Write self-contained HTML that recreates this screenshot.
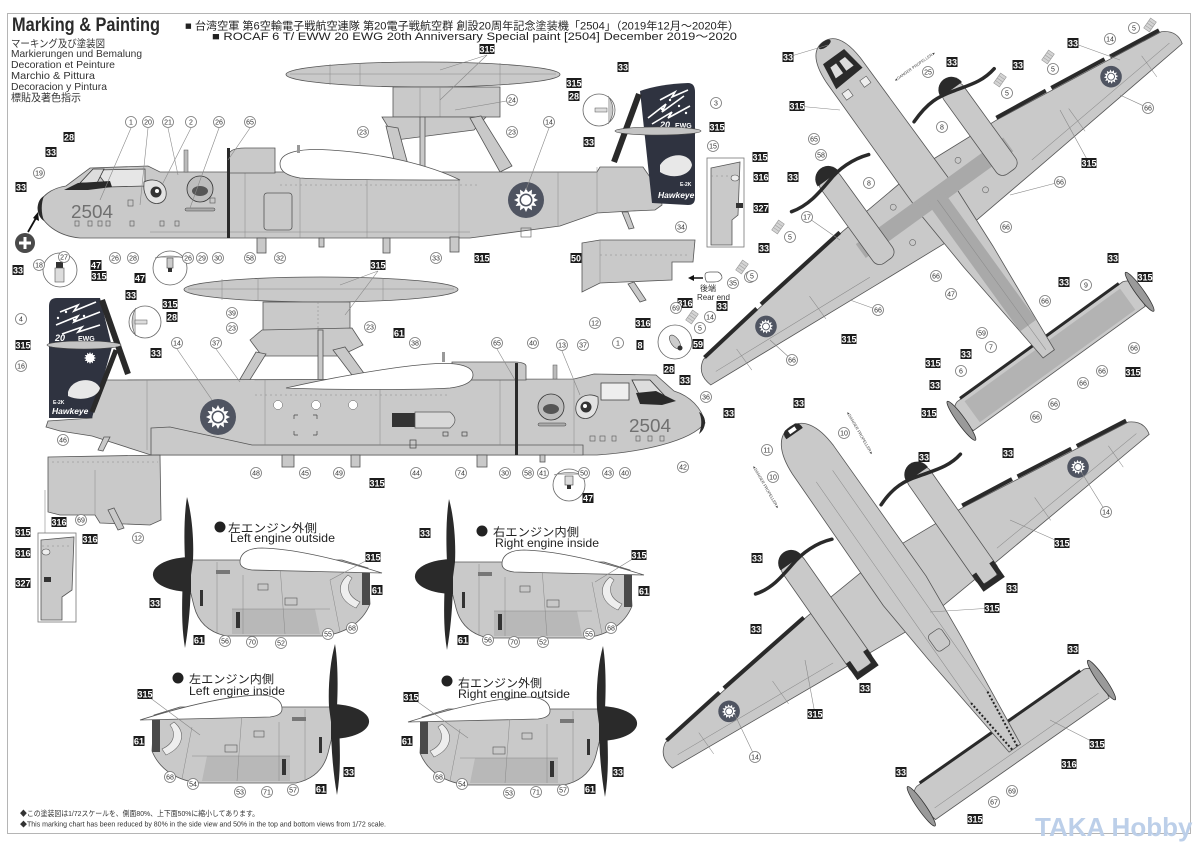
<!DOCTYPE html>
<html><head><meta charset="utf-8">
<style>
html,body{margin:0;padding:0;background:#fff;width:1200px;height:842px;overflow:hidden}
svg{display:block;overflow:hidden}
text{font-family:"Liberation Sans","Noto Sans CJK JP",sans-serif}
.b rect{fill:#1c1c1c}
.b text{fill:#fff;font-size:9px;font-weight:bold;text-anchor:middle}
.c circle{fill:#fff;stroke:#777;stroke-width:.8}
.c text{fill:#333;font-size:7px;text-anchor:middle}
.g{fill:#c9c9c9;stroke:#555;stroke-width:.8}
.l{stroke:#888;stroke-width:.6;fill:none}
.p{stroke:#888;stroke-width:.5;fill:none}
.h{fill:#d4d4d4;stroke:#999;stroke-width:.6}
</style></head><body>
<svg width="1200" height="842" viewBox="0 0 1200 842" xmlns="http://www.w3.org/2000/svg">
<defs>
<polygon id="sun" points="12,0 7.73,2.07 10.39,6 5.66,5.66 6,10.39 2.07,7.73 0,12 -2.07,7.73 -6,10.39 -5.66,5.66 -10.39,6 -7.73,2.07 -12,0 -7.73,-2.07 -10.39,-6 -5.66,-5.66 -6,-10.39 -2.07,-7.73 0,-12 2.07,-7.73 6,-10.39 5.66,-5.66 10.39,-6 7.73,-2.07" fill="#fff"/>
<g id="rd"><circle r="18" fill="#4f5461"/><use href="#sun"/><circle r="6.5" fill="#4f5461"/><circle r="5" fill="#fff"/></g>
<g id="hm"><rect x="-6" y="-3.5" width="12" height="7" class="h"/><line x1="-3" y1="-3.5" x2="-3" y2="3.5" stroke="#999" stroke-width=".5"/><line x1="0" y1="-3.5" x2="0" y2="3.5" stroke="#999" stroke-width=".5"/><line x1="3" y1="-3.5" x2="3" y2="3.5" stroke="#999" stroke-width=".5"/></g>
<g id="eng">
<path class="g" d="M190,560 L342,560 L368,568 L370,604 C362,624 343,634 322,636 L226,636 C208,632 198,622 194,606 L190,590 Z"/>
<path d="M232,609 L315,609 L320,634 L232,634 Z" fill="#b8b8b8"/>
<line class="p" x1="217" y1="562" x2="217" y2="634"/><line class="p" x1="243" y1="575" x2="243" y2="634"/>
<line class="p" x1="280" y1="566" x2="285" y2="634"/><line class="p" x1="232" y1="609" x2="330" y2="609"/>
<line class="p" x1="330" y1="580" x2="340" y2="632"/>
<rect x="258" y="584" width="10" height="6" fill="none" stroke="#555" stroke-width=".6"/>
<rect x="285" y="598" width="12" height="7" fill="none" stroke="#555" stroke-width=".6"/>
<rect x="216" y="570" width="14" height="4" fill="#777"/>
<path d="M348,575 C336,585 338,600 356,608 L360,602 C347,596 346,586 352,578 Z" fill="#eee" stroke="#666" stroke-width=".6"/>
<rect x="362" y="569" width="8" height="36" fill="#4a4a4a"/>
<rect x="200" y="590" width="3" height="16" fill="#333"/>
<rect x="236" y="612" width="4" height="16" fill="#333"/>
<path d="M240,562 C240,552 250,548 262,548 C300,549 350,563 382,573 C340,572 282,571 252,570 C244,569 240,566 240,562 Z" fill="#fff" stroke="#555" stroke-width=".8"/>
<path d="M191,557 A37,17 0 0 0 191,592 Z" fill="#2a2a2a"/>
<path d="M187,497 C192,515 194,540 193,560 L191,575 C191,600 189,625 185,648 C181,625 182,600 183,575 L185,560 C184,540 184,515 187,497 Z" fill="#2a2a2a"/>
</g>
</defs>

<!-- frame -->
<rect x="7.5" y="13.5" width="1183" height="820" fill="none" stroke="#b5b5b5" stroke-width="1"/>

<!-- header -->
<text x="12" y="31" font-size="19" font-weight="bold" fill="#2a2a2a" textLength="148" lengthAdjust="spacingAndGlyphs">Marking &amp; Painting</text>
<g font-size="10.5" fill="#333">
<text x="11" y="47" textLength="94" lengthAdjust="spacingAndGlyphs">マーキング及び塗装図</text>
<text x="11" y="57" textLength="131" lengthAdjust="spacingAndGlyphs">Markierungen und Bemalung</text>
<text x="11" y="68" textLength="104" lengthAdjust="spacingAndGlyphs">Decoration et Peinture</text>
<text x="11" y="79" textLength="84" lengthAdjust="spacingAndGlyphs">Marchio &amp; Pittura</text>
<text x="11" y="90" textLength="96" lengthAdjust="spacingAndGlyphs">Decoracion y Pintura</text>
<text x="11" y="101" textLength="70" lengthAdjust="spacingAndGlyphs">標貼及著色指示</text>
</g>
<text x="185" y="29.5" font-size="11" fill="#222" textLength="554" lengthAdjust="spacingAndGlyphs">■ 台湾空軍 第6空輸電子戦航空連隊 第20電子戦航空群 創設20周年記念塗装機「2504」（2019年12月～2020年）</text>
<text x="212" y="40" font-size="11" fill="#222" textLength="525" lengthAdjust="spacingAndGlyphs">■ ROCAF 6 T/ EWW 20 EWG 20th Anniversary Special paint [2504] December 2019～2020</text>

<!-- ===== UPPER SIDE VIEW ===== -->
<ellipse class="g" cx="423" cy="74.5" rx="137" ry="12.5"/>
<line class="p" x1="290" y1="74" x2="556" y2="74"/><line class="p" x1="330" y1="64" x2="330" y2="85"/><line class="p" x1="360" y1="63" x2="360" y2="86"/><line class="p" x1="500" y1="63" x2="500" y2="86"/>
<rect class="g" x="393" y="87" width="107" height="30"/>
<line class="p" x1="420" y1="87" x2="420" y2="117"/><line class="p" x1="440" y1="87" x2="440" y2="117"/>
<path class="g" d="M382,117 L486,117 L474,130 L396,140 Z"/>
<path class="g" d="M386,126 L398,128 L410,172 L397,172 Z"/>
<path class="g" d="M470,118 L481,116 L512,166 L500,172 Z"/>
<rect class="g" x="420" y="117" width="5" height="55"/>
<path class="g" d="M38,208 C40,196 52,188 66,186 L90,168 L148,166 L160,172 L597,172 L600,167 L643,167 L652,180 L660,186 L662,205 L655,210 L632,211 L597,213 L560,226 L470,238 L80,238 C58,236 42,224 38,208 Z"/>
<line class="p" x1="150" y1="232" x2="470" y2="232"/>
<line class="p" x1="245" y1="172" x2="245" y2="238"/><line class="p" x1="300" y1="172" x2="300" y2="238"/><line class="p" x1="367" y1="180" x2="367" y2="238"/><line class="p" x1="459" y1="180" x2="459" y2="237"/><line class="p" x1="558" y1="172" x2="558" y2="227"/><line class="p" x1="597" y1="167" x2="597" y2="213"/>
<line class="p" x1="280" y1="185" x2="480" y2="185" stroke-dasharray="2 3"/>
<path class="g" d="M228,173 L228,157 C228,150 235,148 245,148 L275,148 L275,173 Z"/>
<path d="M280,164 C280,152 300,148 330,150 C380,153 430,165 460,180 C420,180 330,180 300,178 C288,176 280,172 280,164 Z" fill="#fff" stroke="#555" stroke-width=".8"/>
<rect x="227" y="148" width="3" height="90" fill="#2a2a2a"/>
<rect x="184" y="150" width="4" height="22" fill="#bbb" stroke="#555" stroke-width=".5"/>
<rect x="297" y="145" width="3" height="8" fill="#999"/>
<rect class="g" x="257" y="238" width="9" height="15"/><rect class="g" x="319" y="238" width="5" height="9"/><rect class="g" x="383" y="238" width="7" height="15"/><rect class="g" x="450" y="237" width="9" height="15"/>
<path class="g" d="M622,212 L628,212 L634,228 L629,229 Z"/>
<path d="M95,170 L145,169 L145,186 L108,187 Z" fill="#e6e6e6" stroke="#444" stroke-width=".8"/>
<path d="M80,183 L93,169 L104,169 L97,183 Z" fill="#ddd" stroke="#333" stroke-width=".8"/>
<path d="M64,190 L78,183 L110,181 L112,187 L88,190 Z" fill="#2a2a2a"/>
<path d="M44,196 C36,200 35,215 44,221 C41,213 41,203 44,196 Z" fill="#2a2a2a"/>
<rect class="g" x="264" y="193" width="28" height="37" rx="3"/>
<g fill="none" stroke="#555" stroke-width=".6"><rect x="75" y="221" width="4" height="5"/><rect x="88" y="221" width="4" height="5"/><rect x="98" y="221" width="4" height="5"/><rect x="106" y="221" width="4" height="5"/><rect x="130" y="221" width="4" height="5"/><rect x="160" y="221" width="4" height="5"/><rect x="175" y="221" width="4" height="5"/><rect x="128" y="200" width="5" height="6"/><rect x="210" y="198" width="5" height="5"/></g>
<text x="71" y="218" font-size="18" fill="#707070" textLength="42" lengthAdjust="spacingAndGlyphs">2504</text>
<g transform="translate(156,192)"><path d="M-12,-10 C0,-16 12,-8 10,4 C8,14 -6,14 -10,4 C-13,-2 -12,-6 -12,-10 Z" fill="#e2e2e2" stroke="#444" stroke-width=".8"/><circle r="5.5" fill="#333"/><circle cx="1" cy="-1" r="2" fill="#fff"/></g>
<circle cx="200" cy="189" r="13" fill="#bdbdbd" stroke="#333" stroke-width=".8"/><ellipse cx="200" cy="191" rx="8" ry="5" fill="#555"/>
<rect x="185" y="208" width="30" height="3" rx="1.5" fill="#aaa" stroke="#444" stroke-width=".5"/>
<use href="#rd" x="526" y="200"/>
<rect x="521" y="228" width="10" height="9" fill="none" stroke="#555" stroke-width=".6"/>
<path d="M640,91 Q660,84 688,83 Q695,83 695,92 L695,198 Q695,205 688,205 L652,203 Z" fill="#2f3340"/>
<line x1="639" y1="94" x2="614" y2="162" stroke="#2a2a2a" stroke-width="6"/>
<g stroke="#fff" stroke-width="1.6" fill="none"><polyline points="648,118 666,104 662,112 684,96"/><polyline points="652,124 672,112 668,118 690,106"/><polyline points="660,100 675,92 672,97 688,90"/></g>
<g fill="#fff"><circle cx="670" cy="100" r="1.2"/><circle cx="679" cy="106" r="1.2"/><circle cx="686" cy="113" r="1.2"/><circle cx="662" cy="109" r="1.2"/></g>
<text x="660" y="128" font-size="9" font-style="italic" font-weight="bold" fill="#fff">20</text>
<text x="675" y="128" font-size="7" font-weight="bold" fill="#fff">EWG</text>
<ellipse cx="658" cy="131" rx="43" ry="4" fill="#c4c4c4" stroke="#444" stroke-width=".6"/>
<path d="M660,165 C668,152 690,152 692,165 C690,176 672,180 660,172 Z" fill="#e8e8e8"/>
<text x="680" y="186" font-size="5" font-weight="bold" fill="#fff">E-2K</text>
<text x="658" y="198" font-size="8.5" font-style="italic" font-weight="bold" fill="#fff">Hawkeye</text>
<rect x="707" y="158" width="37" height="89" fill="#fff" stroke="#777" stroke-width=".8"/>
<path class="g" d="M711,168 L740,162 L738,215 L732,220 L732,245 L711,245 Z"/>
<line class="p" x1="711" y1="176" x2="738" y2="176" stroke-dasharray="2 3"/>
<ellipse cx="735" cy="178" rx="4" ry="3" fill="#eee" stroke="#555" stroke-width=".6"/>
<rect x="736" y="203" width="7" height="5" fill="#333"/>
<path class="g" d="M582,243 L600,240 L695,240 L693,262 L672,262 L672,280 L600,283 L582,292 Z"/>
<line class="p" x1="600" y1="240" x2="600" y2="283"/><line class="p" x1="600" y1="255" x2="690" y2="255" stroke-dasharray="2 3"/>
<path class="g" d="M628,284 L634,282 L646,300 L640,302 Z"/>
<path d="M705,275 Q705,272 710,272 L718,272 Q722,274 722,278 Q720,282 714,282 L707,282 Q705,280 705,275 Z" fill="#fff" stroke="#555" stroke-width=".7"/>
<line x1="703" y1="278" x2="692" y2="278" stroke="#111" stroke-width="1.5"/><path d="M688,278 L694,275 L694,281 Z" fill="#111"/>
<text x="700" y="291" font-size="8" fill="#333">後端</text>
<text x="697" y="300" font-size="8" fill="#333">Rear end</text>
<circle cx="60" cy="270" r="17" fill="#fff" stroke="#666" stroke-width=".8"/><rect x="56" y="262" width="7" height="6" fill="#333"/><rect x="55" y="268" width="9" height="14" fill="#ddd" stroke="#555" stroke-width=".6"/>
<circle cx="170" cy="268" r="17" fill="#fff" stroke="#666" stroke-width=".8"/><path d="M155,258 Q170,254 185,258" fill="#c9c9c9" stroke="#555" stroke-width=".6"/><rect x="167" y="258" width="6" height="10" fill="#ccc" stroke="#444" stroke-width=".6"/><rect x="168" y="268" width="4" height="4" fill="#333"/>
<circle cx="599" cy="110" r="16" fill="#fff" stroke="#666" stroke-width=".8"/><path d="M608,96 Q618,110 608,124" fill="#c9c9c9" stroke="#555" stroke-width=".6"/><rect x="595" y="108" width="12" height="4" fill="#ddd" stroke="#555" stroke-width=".5"/>
<circle cx="25" cy="243" r="10" fill="#4a4a4a"/><rect x="19" y="241.5" width="12" height="3" fill="#fff"/><rect x="23.5" y="237" width="3" height="12" fill="#fff"/>
<line x1="28" y1="232" x2="36" y2="218" stroke="#111" stroke-width="1.8"/><path d="M38,212 L39,221 L33,218 Z" fill="#111"/>

<!-- ===== LOWER SIDE VIEW ===== -->
<ellipse class="g" cx="321" cy="289.5" rx="137" ry="12.5"/>
<line class="p" x1="188" y1="289" x2="454" y2="289"/><line class="p" x1="222" y1="279" x2="222" y2="300"/><line class="p" x1="258" y1="278" x2="258" y2="301"/><line class="p" x1="383" y1="278" x2="383" y2="301"/>
<rect class="g" x="263" y="302" width="87" height="30"/>
<line class="p" x1="318" y1="302" x2="318" y2="332" stroke-dasharray="2 2"/>
<path class="g" d="M250,340 L262,330 L352,328 L363,345 L340,356 L262,356 Z"/>
<path class="g" d="M256,352 L266,354 L246,386 L236,386 Z"/>
<path class="g" d="M333,350 L345,347 L366,376 L355,379 Z"/>
<rect class="g" x="318" y="330" width="5" height="52"/>
<path class="g" d="M705,423 C702,408 690,396 674,391 L656,375 L594,374 L574,379 L92,380 L92,418 L48,421 L46,427 L60,431 L92,436 L151,455 L597,455 C640,452 690,442 705,423 Z"/>
<path class="g" d="M151,428 L170,427 L252,445 L583,445 L583,455 L151,455 Z"/>
<line class="p" x1="147" y1="380" x2="147" y2="450"/><line class="p" x1="265" y1="380" x2="265" y2="445"/><line class="p" x1="380" y1="388" x2="380" y2="445"/><line class="p" x1="500" y1="380" x2="500" y2="445"/><line class="p" x1="574" y1="380" x2="574" y2="453"/>
<line class="p" x1="255" y1="395" x2="450" y2="395" stroke-dasharray="2 3"/>
<path class="g" d="M526,380 L526,366 C526,364 522,362 515,362 L452,362 L452,380 Z"/>
<path d="M473,375 C473,365 455,362 430,364 C390,367 330,378 286,388 C330,390 420,390 450,388 C465,386 473,382 473,375 Z" fill="#fff" stroke="#555" stroke-width=".8"/>
<rect x="515" y="363" width="3" height="92" fill="#2a2a2a"/>
<rect x="392" y="413" width="23" height="14" fill="#333"/>
<path d="M415,412 L450,412 Q460,420 450,428 L415,428 Z" fill="#d8d8d8" stroke="#555" stroke-width=".7"/>
<circle cx="278" cy="405" r="4.5" fill="#fff" stroke="#666" stroke-width=".5"/><circle cx="316" cy="405" r="4.5" fill="#fff" stroke="#666" stroke-width=".5"/><circle cx="353" cy="405" r="4.5" fill="#fff" stroke="#666" stroke-width=".5"/>
<g fill="none" stroke="#444" stroke-width=".7"><path d="M294,415 L294,419 M294,415 L298,415 M317,415 L313,415 M317,415 L317,419 M294,435 L294,431 M294,435 L298,435 M317,435 L313,435 M317,435 L317,431"/><rect x="410" y="440" width="6" height="8"/><rect x="443" y="432" width="5" height="4"/><rect x="462" y="432" width="5" height="4"/></g>
<rect x="442" y="352" width="3" height="10" fill="#999"/><rect x="553" y="365" width="4" height="14" fill="#bbb" stroke="#555" stroke-width=".5"/>
<rect class="g" x="282" y="455" width="12" height="12"/><rect class="g" x="351" y="455" width="9" height="12"/><rect class="g" x="477" y="455" width="10" height="12"/><rect class="g" x="540" y="455" width="5" height="7"/>
<path class="g" d="M104,437 L110,437 L103,451 L98,450 Z"/>
<use href="#rd" x="218" y="417"/>
<rect x="601" y="383" width="28" height="17" fill="#eee" stroke="#444" stroke-width=".8"/>
<path d="M632,380 L650,380 L664,395 L640,396 Z" fill="#ddd" stroke="#333" stroke-width=".8"/>
<path d="M636,393 L656,391 L676,401 L662,405 L640,404 Z" fill="#2a2a2a"/>
<path d="M699,412 C707,416 707,428 699,434 C702,426 702,418 699,412 Z" fill="#2a2a2a"/>
<g fill="none" stroke="#555" stroke-width=".6"><rect x="590" y="436" width="5" height="5"/><rect x="600" y="436" width="5" height="5"/><rect x="612" y="436" width="4" height="5"/><rect x="636" y="436" width="4" height="5"/><rect x="648" y="436" width="4" height="5"/><rect x="660" y="436" width="4" height="5"/></g>
<text x="629" y="432" font-size="18" fill="#707070" textLength="42" lengthAdjust="spacingAndGlyphs">2504</text>
<g transform="translate(586,407) scale(-1,1)"><path d="M-12,-10 C0,-16 12,-8 10,4 C8,14 -6,14 -10,4 C-13,-2 -12,-6 -12,-10 Z" fill="#e2e2e2" stroke="#444" stroke-width=".8"/><circle r="5.5" fill="#333"/><circle cx="1" cy="-1" r="2" fill="#fff"/></g>
<circle cx="551" cy="407" r="13" fill="#bdbdbd" stroke="#333" stroke-width=".8"/><ellipse cx="551" cy="409" rx="8" ry="5" fill="#555"/>
<rect x="538" y="423" width="28" height="3" rx="1.5" fill="#aaa" stroke="#444" stroke-width=".5"/>
<path d="M49,306 Q49,298 57,298 L100,298 L112,347 L92,418 L49,418 Z" fill="#2f3340"/>
<line x1="102" y1="300" x2="128" y2="374" stroke="#2a2a2a" stroke-width="6"/>
<line x1="116" y1="350" x2="92" y2="412" stroke="#2a2a2a" stroke-width="5"/>
<g stroke="#fff" stroke-width="1.6" fill="none"><polyline points="60,312 78,305 74,311 96,302"/><polyline points="56,325 78,316 74,322 100,312"/><polyline points="62,334 82,327 78,332 100,325"/></g>
<g fill="#fff"><circle cx="58" cy="318" r="1.2"/><circle cx="66" cy="312" r="1.2"/><circle cx="74" cy="320" r="1.2"/><circle cx="84" cy="316" r="1.2"/></g>
<text x="55" y="341" font-size="9" font-style="italic" font-weight="bold" fill="#fff">20</text>
<text x="78" y="341" font-size="7" font-weight="bold" fill="#fff">EWG</text>
<ellipse cx="84" cy="345" rx="37" ry="4" fill="#c4c4c4" stroke="#444" stroke-width=".6"/>
<use href="#sun" transform="translate(90,358) scale(.5)"/>
<path d="M68,392 C72,378 94,376 100,388 C98,398 80,402 68,396 Z" fill="#e8e8e8"/>
<text x="53" y="404" font-size="5" font-weight="bold" fill="#fff">E-2K</text>
<text x="52" y="414" font-size="8.5" font-style="italic" font-weight="bold" fill="#fff">Hawkeye</text>
<circle cx="145" cy="322" r="16" fill="#fff" stroke="#666" stroke-width=".8"/><path d="M136,308 Q128,322 136,336" fill="#c9c9c9" stroke="#555" stroke-width=".6"/><rect x="135" y="320" width="12" height="4" fill="#ddd" stroke="#555" stroke-width=".5"/>
<circle cx="569" cy="485" r="16" fill="#fff" stroke="#666" stroke-width=".8"/><path d="M554,475 Q569,470 584,475" fill="#c9c9c9" stroke="#555" stroke-width=".6"/><rect x="565" y="476" width="8" height="9" fill="#ddd" stroke="#444" stroke-width=".6"/><rect x="567" y="485" width="4" height="4" fill="#333"/>
<circle cx="675" cy="342" r="17" fill="#fff" stroke="#666" stroke-width=".8"/><ellipse cx="675" cy="342" rx="4" ry="8" transform="rotate(-35 675 342)" fill="#ccc" stroke="#444" stroke-width=".6"/><circle cx="680" cy="348" r="2.5" fill="#333"/>

<!-- tail detail left -->
<path class="g" d="M48,457 L160,455 L161,520 L150,525 L100,523 L95,515 L60,515 L48,512 Z"/>
<line class="p" x1="52" y1="462" x2="158" y2="462" stroke-dasharray="2 3"/><line class="p" x1="95" y1="470" x2="95" y2="515"/>
<path class="g" d="M108,510 L114,508 L124,528 L118,530 Z"/>
<line class="l" x1="45" y1="490" x2="45" y2="535"/>
<rect x="38" y="533" width="38" height="89" fill="#fff" stroke="#777" stroke-width=".8"/>
<path class="g" d="M41,540 L74,537 L72,590 L62,597 L62,620 L41,620 Z"/>
<line class="p" x1="42" y1="546" x2="72" y2="546" stroke-dasharray="2 3"/>
<ellipse cx="46" cy="552" rx="4" ry="3" fill="#eee" stroke="#555" stroke-width=".6"/>
<rect x="44" y="577" width="7" height="5" fill="#333"/>

<!-- engines -->
<use href="#eng"/>
<use href="#eng" transform="translate(262,2)"/>
<use href="#eng" transform="translate(522,147) scale(-1,1)"/>
<use href="#eng" transform="translate(790,149) scale(-1,1)"/>
<circle cx="220" cy="527" r="5.5" fill="#222"/><text x="228" y="532" font-size="11.5" fill="#222" textLength="89" lengthAdjust="spacingAndGlyphs">左エンジン外側</text><text x="230" y="542" font-size="12" fill="#222" textLength="105" lengthAdjust="spacingAndGlyphs">Left engine outside</text>
<circle cx="482" cy="531" r="5.5" fill="#222"/><text x="493" y="536" font-size="11.5" fill="#222" textLength="86" lengthAdjust="spacingAndGlyphs">右エンジン内側</text><text x="495" y="547" font-size="12" fill="#222" textLength="104" lengthAdjust="spacingAndGlyphs">Right engine inside</text>
<circle cx="178" cy="678" r="5.5" fill="#222"/><text x="189" y="683" font-size="11.5" fill="#222" textLength="85" lengthAdjust="spacingAndGlyphs">左エンジン内側</text><text x="189" y="695" font-size="12" fill="#222" textLength="96" lengthAdjust="spacingAndGlyphs">Left engine inside</text>
<circle cx="447" cy="681" r="5.5" fill="#222"/><text x="458" y="687" font-size="11.5" fill="#222" textLength="84" lengthAdjust="spacingAndGlyphs">右エンジン外側</text><text x="458" y="698" font-size="12" fill="#222" textLength="112" lengthAdjust="spacingAndGlyphs">Right engine outside</text>

<!-- footer -->
<text x="20" y="816" font-size="7.5" fill="#333" textLength="239" lengthAdjust="spacingAndGlyphs">◆この塗装図は1/72スケールを、側面80%、上下面50%に縮小してあります。</text>
<text x="20" y="826.5" font-size="7" fill="#333" textLength="366" lengthAdjust="spacingAndGlyphs">◆This marking chart has been reduced by 80% in the side view and 50% in the top and bottom views from 1/72 scale.</text>

<!-- ===== TOP VIEW (split into groups) ===== -->
<g transform="translate(823,42) rotate(54.1)">
<path class="g" d="M370,-102 Q372,-111 386,-111 L403,-106 L403,106 L386,111 Q372,111 370,102 Z"/>
<rect x="374" y="-96" width="26" height="192" fill="#b3b3b3"/>
<line x1="369" y1="-98" x2="369" y2="98" stroke="#2a2a2a" stroke-width="3"/>
<ellipse cx="388" cy="-110" rx="24" ry="4" fill="#9a9a9a" stroke="#333" stroke-width=".8"/>
<ellipse cx="388" cy="110" rx="24" ry="4" fill="#9a9a9a" stroke="#333" stroke-width=".8"/>
</g>
<g transform="translate(823,42) rotate(54.1)">
<path class="g" d="M190,-280 L165,-95 L158,0 L165,95 L187,283 Q195,297 212,292 L228,100 L236,0 L228,-100 L212,-290 Q198,-294 190,-280 Z"/>
<line class="p" x1="204" y1="-280" x2="218" y2="-100"/><line class="p" x1="204" y1="280" x2="218" y2="100"/>
<line class="p" x1="198" y1="-250" x2="224" y2="-250"/><line class="p" x1="198" y1="-160" x2="226" y2="-160"/><line class="p" x1="198" y1="250" x2="224" y2="250"/><line class="p" x1="198" y1="160" x2="226" y2="160"/>
<g stroke="#2a2a2a" stroke-width="4"><line x1="187.5" y1="-279" x2="180" y2="-224"/><line x1="179" y1="-218" x2="171" y2="-158"/><line x1="170" y1="-152" x2="163" y2="-96"/><line x1="186" y1="281" x2="177" y2="210"/><line x1="176" y1="204" x2="164" y2="98"/></g>
<use href="#rd" transform="translate(197,-213) scale(.6)"/>
<use href="#rd" transform="translate(197,213) scale(.6)"/>
<g fill="none" stroke="#666" stroke-width=".6"><circle cx="215" cy="-45" r="3"/><circle cx="215" cy="45" r="3"/><circle cx="205" cy="-70" r="3"/><circle cx="205" cy="70" r="3"/></g>
</g>
<g transform="translate(823,42) rotate(54.1)">
<path class="g" d="M0,0 C0,-13 12,-20 35,-21 L200,-22 L265,-18 L340,-11 L385,-7 L385,7 L340,11 L265,18 L200,22 L35,21 C12,20 0,13 0,0 Z"/>
<rect x="183" y="-90" width="17" height="182" fill="#a9a9a9"/>
<rect x="192" y="-10" width="158" height="20" fill="#a9a9a9"/>
<line class="p" x1="195" y1="0" x2="380" y2="0"/>
<path d="M18,-13 L44,-17 L46,17 L18,13 Z" fill="#2a2a2a"/>
<path d="M25,-9 L37,-11 L37,-2 L25,-2 Z" fill="#ddd"/><path d="M25,2 L37,2 L37,11 L25,9 Z" fill="#ddd"/>
<rect x="53" y="-15" width="8" height="8" fill="#eee" stroke="#555" stroke-width=".6"/><rect x="53" y="7" width="8" height="8" fill="#eee" stroke="#555" stroke-width=".6"/>
<ellipse cx="3" cy="0" rx="3" ry="7" fill="#2a2a2a"/>
<rect class="g" x="110" y="-88" width="105" height="24" rx="8"/>
<rect class="g" x="110" y="64" width="105" height="24" rx="8"/>
<path d="M114,-89 A13,13 0 0 0 114,-63 Z" fill="#2a2a2a"/>
<path d="M114,63 A13,13 0 0 0 114,89 Z" fill="#2a2a2a"/>
<path d="M118,-27 C110,-50 112,-62 116,-76 C120,-92 126,-105 122,-123" stroke="#2a2a2a" stroke-width="3.5" fill="none" stroke-linecap="round"/>
<path d="M118,29 C112,45 112,62 116,76 C120,92 124,108 119,125" stroke="#2a2a2a" stroke-width="3.5" fill="none" stroke-linecap="round"/>
<g fill="none" stroke="#666" stroke-width=".6"><circle cx="175" cy="-40" r="3"/><circle cx="175" cy="40" r="3"/></g>
</g>
<text transform="translate(895,82) rotate(-35)" font-size="4" fill="#444">◄DANGER PROPELLER►</text>

<!-- ===== BOTTOM VIEW (split into groups) ===== -->
<g transform="translate(790,427) rotate(55)">
<path class="g" d="M367,-102 Q369,-111 383,-111 L405,-106 L405,106 L383,111 Q369,111 367,102 Z"/>
<line x1="366" y1="-98" x2="366" y2="98" stroke="#2a2a2a" stroke-width="3"/>
<line class="p" x1="395" y1="-100" x2="395" y2="100"/>
<ellipse cx="386" cy="-110" rx="24" ry="4" fill="#9a9a9a" stroke="#333" stroke-width=".8"/>
<ellipse cx="386" cy="110" rx="24" ry="4" fill="#9a9a9a" stroke="#333" stroke-width=".8"/>
</g>
<g transform="translate(790,427) rotate(55)">
<path class="g" d="M190,-280 L165,-95 L158,0 L165,95 L187,283 Q195,297 212,292 L228,100 L236,0 L228,-100 L212,-290 Q198,-294 190,-280 Z"/>
<line class="p" x1="204" y1="-280" x2="218" y2="-100"/><line class="p" x1="204" y1="280" x2="218" y2="100"/>
<line class="p" x1="198" y1="-250" x2="224" y2="-250"/><line class="p" x1="198" y1="-160" x2="226" y2="-160"/><line class="p" x1="198" y1="250" x2="224" y2="250"/><line class="p" x1="198" y1="160" x2="226" y2="160"/>
<g stroke="#2a2a2a" stroke-width="4"><line x1="187.5" y1="-279" x2="180" y2="-224"/><line x1="179" y1="-218" x2="171" y2="-158"/><line x1="170" y1="-152" x2="163" y2="-96"/><line x1="186" y1="281" x2="177" y2="210"/><line x1="176" y1="204" x2="164" y2="98"/></g>
<use href="#rd" transform="translate(198,-213) scale(.6)"/>
<use href="#rd" transform="translate(198,213) scale(.6)"/>
</g>
<g transform="translate(790,427) rotate(55)">
<path class="g" d="M0,0 C0,-15 14,-24 40,-25 L200,-26 L270,-20 L345,-12 L392,-7 L392,7 L345,12 L270,20 L200,26 L40,25 C14,24 0,15 0,0 Z"/>
<line class="p" x1="60" y1="-10" x2="330" y2="-10"/><line class="p" x1="60" y1="10" x2="330" y2="10"/>
<rect x="250" y="-8" width="20" height="16" rx="4" fill="none" stroke="#555" stroke-width=".7"/>
<path d="M330,-10 L392,-3 M330,10 L392,3" stroke="#222" stroke-width="2" stroke-dasharray="2 2" fill="none"/>
<path d="M0,-6 C1,-9 4,-10 6,-10 L8,-10 L8,10 L6,10 C4,10 1,9 0,6 Z" fill="#2a2a2a"/>
<rect x="2" y="-4" width="4" height="8" fill="#fff"/>
<rect class="g" x="108" y="-90" width="132" height="26" rx="8"/>
<rect class="g" x="108" y="64" width="132" height="26" rx="8"/>
<path d="M226,-90 L246,-90 L246,-64 L226,-64 L226,-69 L240,-69 L240,-85 L226,-85 Z" fill="#2a2a2a"/>
<path d="M226,64 L246,64 L246,90 L226,90 L226,85 L240,85 L240,69 L226,69 Z" fill="#2a2a2a"/>
<path d="M112,-90 A13,13 0 0 0 112,-64 Z" fill="#2a2a2a"/>
<path d="M112,64 A13,13 0 0 0 112,90 Z" fill="#2a2a2a"/>
<path d="M116,-30 C108,-50 110,-64 114,-77 C118,-93 124,-107 120,-124" stroke="#2a2a2a" stroke-width="3.5" fill="none" stroke-linecap="round"/>
<path d="M116,30 C110,45 110,62 114,77 C118,93 122,108 117,124" stroke="#2a2a2a" stroke-width="3.5" fill="none" stroke-linecap="round"/>
</g>
<text transform="translate(846,412) rotate(60)" font-size="4" fill="#444">◄DANGER PROPELLER►</text>
<text transform="translate(752,466) rotate(60)" font-size="4" fill="#444">◄DANGER PROPELLER►</text>

<!-- stripe markers -->
<use href="#hm" transform="translate(778,227) rotate(-55)"/>
<use href="#hm" transform="translate(742,267) rotate(-55)"/>
<use href="#hm" transform="translate(1000,80) rotate(-55)"/>
<use href="#hm" transform="translate(1048,57) rotate(-55)"/>
<use href="#hm" transform="translate(1150,25) rotate(-55)"/>
<use href="#hm" transform="translate(692,317) rotate(-55)"/>

<!-- leader lines -->
<g class="l">
<line x1="131" y1="128" x2="100" y2="200"/><line x1="148" y1="128" x2="140" y2="205"/><line x1="168" y1="128" x2="178" y2="175"/><line x1="191" y1="128" x2="162" y2="185"/><line x1="219" y1="128" x2="190" y2="208"/><line x1="250" y1="128" x2="228" y2="160"/>
<line x1="487" y1="55" x2="440" y2="70"/><line x1="487" y1="55" x2="440" y2="100"/><line x1="512" y1="100" x2="455" y2="110"/><line x1="549" y1="128" x2="526" y2="190"/>
<line x1="378" y1="271" x2="340" y2="285"/><line x1="378" y1="271" x2="345" y2="315"/><line x1="177" y1="349" x2="212" y2="400"/><line x1="216" y1="349" x2="240" y2="382"/><line x1="497" y1="349" x2="515" y2="380"/><line x1="562" y1="351" x2="580" y2="395"/>
<line x1="788" y1="57" x2="828" y2="45"/><line x1="797" y1="106" x2="840" y2="110"/><line x1="1089" y1="163" x2="1060" y2="110"/><line x1="1073" y1="43" x2="1120" y2="60"/><line x1="1062" y1="543" x2="1010" y2="520"/><line x1="992" y1="608" x2="930" y2="612"/><line x1="815" y1="714" x2="805" y2="660"/><line x1="1097" y1="744" x2="1050" y2="720"/>
<line x1="1148" y1="108" x2="1120" y2="95"/><line x1="1060" y1="182" x2="1010" y2="195"/><line x1="878" y1="310" x2="850" y2="300"/><line x1="792" y1="360" x2="770" y2="340"/><line x1="807" y1="217" x2="840" y2="240"/><line x1="1106" y1="512" x2="1080" y2="470"/><line x1="755" y1="757" x2="735" y2="715"/>
<line x1="373" y1="557" x2="330" y2="580"/><line x1="639" y1="555" x2="595" y2="582"/><line x1="145" y1="694" x2="200" y2="735"/><line x1="411" y1="697" x2="468" y2="738"/>
</g>

<!-- black labels -->
<g class="b">
<rect x="63.5" y="132" width="11" height="10"/><text x="69" y="140.3">28</text>
<rect x="45.5" y="147" width="11" height="10"/><text x="51" y="155.3">33</text>
<rect x="15.5" y="182" width="11" height="10"/><text x="21" y="190.3">33</text>
<rect x="479.5" y="44" width="15" height="10"/><text x="487" y="52.3">315</text>
<rect x="566.5" y="78" width="15" height="10"/><text x="574" y="86.3">315</text>
<rect x="568.5" y="91" width="11" height="10"/><text x="574" y="99.3">28</text>
<rect x="617.5" y="62" width="11" height="10"/><text x="623" y="70.3">33</text>
<rect x="583.5" y="137" width="11" height="10"/><text x="589" y="145.3">33</text>
<rect x="90.5" y="260" width="11" height="10"/><text x="96" y="268.3">47</text>
<rect x="91.5" y="271" width="15" height="10"/><text x="99" y="279.3">315</text>
<rect x="12.5" y="265" width="11" height="10"/><text x="18" y="273.3">33</text>
<rect x="474.5" y="253" width="15" height="10"/><text x="482" y="261.3">315</text>
<rect x="570.5" y="253" width="11" height="10"/><text x="576" y="261.3">50</text>
<rect x="134.5" y="273" width="11" height="10"/><text x="140" y="281.3">47</text>
<rect x="370.5" y="260" width="15" height="10"/><text x="378" y="268.3">315</text>
<rect x="709.5" y="122" width="15" height="10"/><text x="717" y="130.3">315</text>
<rect x="752.5" y="152" width="15" height="10"/><text x="760" y="160.3">315</text>
<rect x="753.5" y="172" width="15" height="10"/><text x="761" y="180.3">316</text>
<rect x="753.5" y="203" width="15" height="10"/><text x="761" y="211.3">327</text>
<rect x="758.5" y="243" width="11" height="10"/><text x="764" y="251.3">33</text>
<rect x="677.5" y="298" width="15" height="10"/><text x="685" y="306.3">316</text>
<rect x="635.5" y="318" width="15" height="10"/><text x="643" y="326.3">316</text>
<rect x="636.5" y="340" width="7" height="10"/><text x="640" y="348.3">8</text>
<rect x="692.5" y="339" width="11" height="10"/><text x="698" y="347.3">59</text>
<rect x="716.5" y="301" width="11" height="10"/><text x="722" y="309.3">33</text>
<rect x="663.5" y="364" width="11" height="10"/><text x="669" y="372.3">28</text>
<rect x="679.5" y="375" width="11" height="10"/><text x="685" y="383.3">33</text>
<rect x="125.5" y="290" width="11" height="10"/><text x="131" y="298.3">33</text>
<rect x="162.5" y="299" width="15" height="10"/><text x="170" y="307.3">315</text>
<rect x="166.5" y="312" width="11" height="10"/><text x="172" y="320.3">28</text>
<rect x="15.5" y="340" width="15" height="10"/><text x="23" y="348.3">315</text>
<rect x="150.5" y="348" width="11" height="10"/><text x="156" y="356.3">33</text>
<rect x="393.5" y="328" width="11" height="10"/><text x="399" y="336.3">61</text>
<rect x="369.5" y="478" width="15" height="10"/><text x="377" y="486.3">315</text>
<rect x="582.5" y="493" width="11" height="10"/><text x="588" y="501.3">47</text>
<rect x="15.5" y="527" width="15" height="10"/><text x="23" y="535.3">315</text>
<rect x="15.5" y="548" width="15" height="10"/><text x="23" y="556.3">316</text>
<rect x="15.5" y="578" width="15" height="10"/><text x="23" y="586.3">327</text>
<rect x="51.5" y="517" width="15" height="10"/><text x="59" y="525.3">316</text>
<rect x="82.5" y="534" width="15" height="10"/><text x="90" y="542.3">316</text>
<rect x="365.5" y="552" width="15" height="10"/><text x="373" y="560.3">315</text>
<rect x="371.5" y="585" width="11" height="10"/><text x="377" y="593.3">61</text>
<rect x="149.5" y="598" width="11" height="10"/><text x="155" y="606.3">33</text>
<rect x="193.5" y="635" width="11" height="10"/><text x="199" y="643.3">61</text>
<rect x="419.5" y="528" width="11" height="10"/><text x="425" y="536.3">33</text>
<rect x="631.5" y="550" width="15" height="10"/><text x="639" y="558.3">315</text>
<rect x="638.5" y="586" width="11" height="10"/><text x="644" y="594.3">61</text>
<rect x="457.5" y="635" width="11" height="10"/><text x="463" y="643.3">61</text>
<rect x="137.5" y="689" width="15" height="10"/><text x="145" y="697.3">315</text>
<rect x="133.5" y="736" width="11" height="10"/><text x="139" y="744.3">61</text>
<rect x="315.5" y="784" width="11" height="10"/><text x="321" y="792.3">61</text>
<rect x="343.5" y="767" width="11" height="10"/><text x="349" y="775.3">33</text>
<rect x="403.5" y="692" width="15" height="10"/><text x="411" y="700.3">315</text>
<rect x="401.5" y="736" width="11" height="10"/><text x="407" y="744.3">61</text>
<rect x="584.5" y="784" width="11" height="10"/><text x="590" y="792.3">61</text>
<rect x="612.5" y="767" width="11" height="10"/><text x="618" y="775.3">33</text>
<rect x="782.5" y="52" width="11" height="10"/><text x="788" y="60.3">33</text>
<rect x="789.5" y="101" width="15" height="10"/><text x="797" y="109.3">315</text>
<rect x="946.5" y="57" width="11" height="10"/><text x="952" y="65.3">33</text>
<rect x="1012.5" y="60" width="11" height="10"/><text x="1018" y="68.3">33</text>
<rect x="1067.5" y="38" width="11" height="10"/><text x="1073" y="46.3">33</text>
<rect x="1081.5" y="158" width="15" height="10"/><text x="1089" y="166.3">315</text>
<rect x="787.5" y="172" width="11" height="10"/><text x="793" y="180.3">33</text>
<rect x="841.5" y="334" width="15" height="10"/><text x="849" y="342.3">315</text>
<rect x="1107.5" y="253" width="11" height="10"/><text x="1113" y="261.3">33</text>
<rect x="1137.5" y="272" width="15" height="10"/><text x="1145" y="280.3">315</text>
<rect x="1058.5" y="277" width="11" height="10"/><text x="1064" y="285.3">33</text>
<rect x="925.5" y="358" width="15" height="10"/><text x="933" y="366.3">315</text>
<rect x="960.5" y="349" width="11" height="10"/><text x="966" y="357.3">33</text>
<rect x="929.5" y="380" width="11" height="10"/><text x="935" y="388.3">33</text>
<rect x="921.5" y="408" width="15" height="10"/><text x="929" y="416.3">315</text>
<rect x="1125.5" y="367" width="15" height="10"/><text x="1133" y="375.3">315</text>
<rect x="793.5" y="398" width="11" height="10"/><text x="799" y="406.3">33</text>
<rect x="723.5" y="408" width="11" height="10"/><text x="729" y="416.3">33</text>
<rect x="918.5" y="452" width="11" height="10"/><text x="924" y="460.3">33</text>
<rect x="1002.5" y="448" width="11" height="10"/><text x="1008" y="456.3">33</text>
<rect x="1054.5" y="538" width="15" height="10"/><text x="1062" y="546.3">315</text>
<rect x="751.5" y="553" width="11" height="10"/><text x="757" y="561.3">33</text>
<rect x="1006.5" y="583" width="11" height="10"/><text x="1012" y="591.3">33</text>
<rect x="984.5" y="603" width="15" height="10"/><text x="992" y="611.3">315</text>
<rect x="750.5" y="624" width="11" height="10"/><text x="756" y="632.3">33</text>
<rect x="859.5" y="683" width="11" height="10"/><text x="865" y="691.3">33</text>
<rect x="807.5" y="709" width="15" height="10"/><text x="815" y="717.3">315</text>
<rect x="1067.5" y="644" width="11" height="10"/><text x="1073" y="652.3">33</text>
<rect x="1089.5" y="739" width="15" height="10"/><text x="1097" y="747.3">315</text>
<rect x="1061.5" y="759" width="15" height="10"/><text x="1069" y="767.3">316</text>
<rect x="895.5" y="767" width="11" height="10"/><text x="901" y="775.3">33</text>
<rect x="967.5" y="814" width="15" height="10"/><text x="975" y="822.3">315</text>
</g>

<!-- circled labels -->
<g class="c">
<circle cx="131" cy="122" r="5.5"/><text x="131" y="124.5">1</text>
<circle cx="148" cy="122" r="5.5"/><text x="148" y="124.5">20</text>
<circle cx="168" cy="122" r="5.5"/><text x="168" y="124.5">21</text>
<circle cx="191" cy="122" r="5.5"/><text x="191" y="124.5">2</text>
<circle cx="219" cy="122" r="5.5"/><text x="219" y="124.5">26</text>
<circle cx="250" cy="122" r="5.5"/><text x="250" y="124.5">65</text>
<circle cx="363" cy="132" r="5.5"/><text x="363" y="134.5">23</text>
<circle cx="512" cy="100" r="5.5"/><text x="512" y="102.5">24</text>
<circle cx="512" cy="132" r="5.5"/><text x="512" y="134.5">23</text>
<circle cx="549" cy="122" r="5.5"/><text x="549" y="124.5">14</text>
<circle cx="39" cy="173" r="5.5"/><text x="39" y="175.5">19</text>
<circle cx="64" cy="257" r="5.5"/><text x="64" y="259.5">27</text>
<circle cx="39" cy="265" r="5.5"/><text x="39" y="267.5">18</text>
<circle cx="115" cy="258" r="5.5"/><text x="115" y="260.5">26</text>
<circle cx="133" cy="258" r="5.5"/><text x="133" y="260.5">28</text>
<circle cx="188" cy="258" r="5.5"/><text x="188" y="260.5">26</text>
<circle cx="202" cy="258" r="5.5"/><text x="202" y="260.5">29</text>
<circle cx="218" cy="258" r="5.5"/><text x="218" y="260.5">30</text>
<circle cx="250" cy="258" r="5.5"/><text x="250" y="260.5">58</text>
<circle cx="280" cy="258" r="5.5"/><text x="280" y="260.5">32</text>
<circle cx="436" cy="258" r="5.5"/><text x="436" y="260.5">33</text>
<circle cx="716" cy="103" r="5.5"/><text x="716" y="105.5">3</text>
<circle cx="713" cy="146" r="5.5"/><text x="713" y="148.5">15</text>
<circle cx="681" cy="227" r="5.5"/><text x="681" y="229.5">34</text>
<circle cx="21" cy="319" r="5.5"/><text x="21" y="321.5">4</text>
<circle cx="21" cy="366" r="5.5"/><text x="21" y="368.5">16</text>
<circle cx="177" cy="343" r="5.5"/><text x="177" y="345.5">14</text>
<circle cx="216" cy="343" r="5.5"/><text x="216" y="345.5">37</text>
<circle cx="232" cy="313" r="5.5"/><text x="232" y="315.5">39</text>
<circle cx="232" cy="328" r="5.5"/><text x="232" y="330.5">23</text>
<circle cx="370" cy="327" r="5.5"/><text x="370" y="329.5">23</text>
<circle cx="415" cy="343" r="5.5"/><text x="415" y="345.5">38</text>
<circle cx="497" cy="343" r="5.5"/><text x="497" y="345.5">65</text>
<circle cx="533" cy="343" r="5.5"/><text x="533" y="345.5">40</text>
<circle cx="562" cy="345" r="5.5"/><text x="562" y="347.5">13</text>
<circle cx="583" cy="345" r="5.5"/><text x="583" y="347.5">37</text>
<circle cx="618" cy="343" r="5.5"/><text x="618" y="345.5">1</text>
<circle cx="706" cy="397" r="5.5"/><text x="706" y="399.5">36</text>
<circle cx="683" cy="467" r="5.5"/><text x="683" y="469.5">42</text>
<circle cx="63" cy="440" r="5.5"/><text x="63" y="442.5">46</text>
<circle cx="256" cy="473" r="5.5"/><text x="256" y="475.5">48</text>
<circle cx="305" cy="473" r="5.5"/><text x="305" y="475.5">45</text>
<circle cx="339" cy="473" r="5.5"/><text x="339" y="475.5">49</text>
<circle cx="416" cy="473" r="5.5"/><text x="416" y="475.5">44</text>
<circle cx="461" cy="473" r="5.5"/><text x="461" y="475.5">74</text>
<circle cx="505" cy="473" r="5.5"/><text x="505" y="475.5">30</text>
<circle cx="528" cy="473" r="5.5"/><text x="528" y="475.5">58</text>
<circle cx="543" cy="473" r="5.5"/><text x="543" y="475.5">41</text>
<circle cx="584" cy="473" r="5.5"/><text x="584" y="475.5">50</text>
<circle cx="608" cy="473" r="5.5"/><text x="608" y="475.5">43</text>
<circle cx="625" cy="473" r="5.5"/><text x="625" y="475.5">40</text>
<circle cx="595" cy="323" r="5.5"/><text x="595" y="325.5">12</text>
<circle cx="676" cy="308" r="5.5"/><text x="676" y="310.5">69</text>
<circle cx="710" cy="317" r="5.5"/><text x="710" y="319.5">14</text>
<circle cx="700" cy="328" r="5.5"/><text x="700" y="330.5">5</text>
<circle cx="733" cy="283" r="5.5"/><text x="733" y="285.5">35</text>
<circle cx="750" cy="277" r="5.5"/><text x="750" y="279.5">5</text>
<circle cx="81" cy="520" r="5.5"/><text x="81" y="522.5">69</text>
<circle cx="138" cy="538" r="5.5"/><text x="138" y="540.5">12</text>
<circle cx="225" cy="641" r="5.5"/><text x="225" y="643.5">56</text>
<circle cx="252" cy="642" r="5.5"/><text x="252" y="644.5">70</text>
<circle cx="281" cy="643" r="5.5"/><text x="281" y="645.5">52</text>
<circle cx="328" cy="634" r="5.5"/><text x="328" y="636.5">55</text>
<circle cx="352" cy="628" r="5.5"/><text x="352" y="630.5">68</text>
<circle cx="488" cy="640" r="5.5"/><text x="488" y="642.5">56</text>
<circle cx="514" cy="642" r="5.5"/><text x="514" y="644.5">70</text>
<circle cx="543" cy="642" r="5.5"/><text x="543" y="644.5">52</text>
<circle cx="589" cy="634" r="5.5"/><text x="589" y="636.5">55</text>
<circle cx="611" cy="628" r="5.5"/><text x="611" y="630.5">68</text>
<circle cx="170" cy="777" r="5.5"/><text x="170" y="779.5">68</text>
<circle cx="193" cy="784" r="5.5"/><text x="193" y="786.5">54</text>
<circle cx="240" cy="792" r="5.5"/><text x="240" y="794.5">53</text>
<circle cx="267" cy="792" r="5.5"/><text x="267" y="794.5">71</text>
<circle cx="293" cy="790" r="5.5"/><text x="293" y="792.5">57</text>
<circle cx="439" cy="777" r="5.5"/><text x="439" y="779.5">68</text>
<circle cx="462" cy="784" r="5.5"/><text x="462" y="786.5">54</text>
<circle cx="509" cy="793" r="5.5"/><text x="509" y="795.5">53</text>
<circle cx="536" cy="792" r="5.5"/><text x="536" y="794.5">71</text>
<circle cx="563" cy="790" r="5.5"/><text x="563" y="792.5">57</text>
<circle cx="1110" cy="39" r="5.5"/><text x="1110" y="41.5">14</text>
<circle cx="1134" cy="28" r="5.5"/><text x="1134" y="30.5">5</text>
<circle cx="1053" cy="69" r="5.5"/><text x="1053" y="71.5">5</text>
<circle cx="1007" cy="93" r="5.5"/><text x="1007" y="95.5">5</text>
<circle cx="928" cy="72" r="5.5"/><text x="928" y="74.5">25</text>
<circle cx="942" cy="127" r="5.5"/><text x="942" y="129.5">8</text>
<circle cx="869" cy="183" r="5.5"/><text x="869" y="185.5">8</text>
<circle cx="814" cy="139" r="5.5"/><text x="814" y="141.5">65</text>
<circle cx="821" cy="155" r="5.5"/><text x="821" y="157.5">58</text>
<circle cx="807" cy="217" r="5.5"/><text x="807" y="219.5">17</text>
<circle cx="790" cy="237" r="5.5"/><text x="790" y="239.5">5</text>
<circle cx="752" cy="276" r="5.5"/><text x="752" y="278.5">5</text>
<circle cx="1148" cy="108" r="5.5"/><text x="1148" y="110.5">66</text>
<circle cx="1060" cy="182" r="5.5"/><text x="1060" y="184.5">66</text>
<circle cx="1006" cy="227" r="5.5"/><text x="1006" y="229.5">66</text>
<circle cx="936" cy="276" r="5.5"/><text x="936" y="278.5">66</text>
<circle cx="951" cy="294" r="5.5"/><text x="951" y="296.5">47</text>
<circle cx="878" cy="310" r="5.5"/><text x="878" y="312.5">66</text>
<circle cx="792" cy="360" r="5.5"/><text x="792" y="362.5">66</text>
<circle cx="1086" cy="285" r="5.5"/><text x="1086" y="287.5">9</text>
<circle cx="1045" cy="301" r="5.5"/><text x="1045" y="303.5">66</text>
<circle cx="982" cy="333" r="5.5"/><text x="982" y="335.5">59</text>
<circle cx="991" cy="347" r="5.5"/><text x="991" y="349.5">7</text>
<circle cx="961" cy="371" r="5.5"/><text x="961" y="373.5">6</text>
<circle cx="1134" cy="348" r="5.5"/><text x="1134" y="350.5">66</text>
<circle cx="1102" cy="371" r="5.5"/><text x="1102" y="373.5">66</text>
<circle cx="1083" cy="383" r="5.5"/><text x="1083" y="385.5">66</text>
<circle cx="1054" cy="404" r="5.5"/><text x="1054" y="406.5">66</text>
<circle cx="1036" cy="417" r="5.5"/><text x="1036" y="419.5">66</text>
<circle cx="767" cy="450" r="5.5"/><text x="767" y="452.5">11</text>
<circle cx="844" cy="433" r="5.5"/><text x="844" y="435.5">10</text>
<circle cx="773" cy="477" r="5.5"/><text x="773" y="479.5">10</text>
<circle cx="1106" cy="512" r="5.5"/><text x="1106" y="514.5">14</text>
<circle cx="755" cy="757" r="5.5"/><text x="755" y="759.5">14</text>
<circle cx="994" cy="802" r="5.5"/><text x="994" y="804.5">67</text>
<circle cx="1012" cy="791" r="5.5"/><text x="1012" y="793.5">69</text>
</g>

<!-- watermark -->
<text x="1035" y="836" font-size="26" font-weight="bold" fill="#bccfe9">TAKA Hobby</text>
</svg>
</body></html>
